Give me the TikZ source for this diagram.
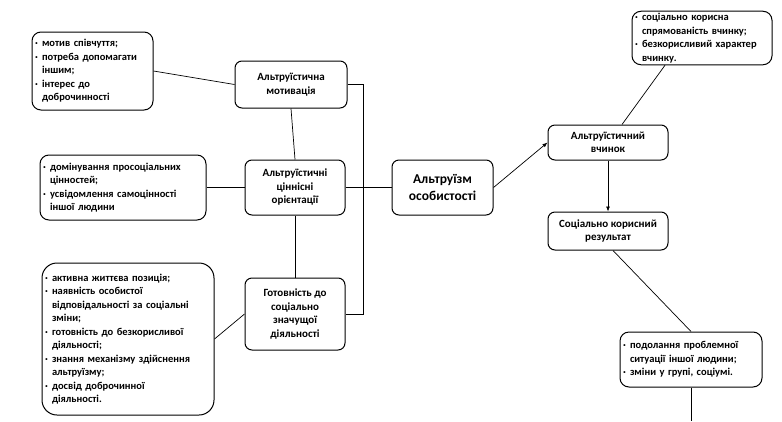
\documentclass[tikz,border=0pt]{standalone}
\usepackage{fontspec}
\setmainfont{Carlito}
\usetikzlibrary{arrows.meta}
\newcommand{\itm}{\makebox[7pt][l]{·}}
\newcommand{\cnt}{\hspace*{7pt}}
\begin{document}
\begin{tikzpicture}[x=1pt,y=-1pt,
  box/.style={draw,line width=1pt,rounded corners=7pt,align=center,inner sep=2pt,
    font=\bfseries\fontsize{11}{13.5}\selectfont},
  listbox/.style={box,align=left,inner xsep=3pt,rounded corners=9pt,
    font=\bfseries\fontsize{10.5}{13.5}\selectfont},
  link/.style={line width=0.7pt},
  arr/.style={link,-{Latex[length=5pt,width=4pt]}}]
\useasboundingbox (0,0) rectangle (782,421);

\node[listbox,text width=115pt,minimum height=78pt] (motives) at (92.5,71)
  {\itm мотив співчуття;\\ \itm потреба допомагати\\ \cnt іншим;\\ \itm інтерес до\\ \cnt доброчинності};
\node[box,minimum width=112pt,minimum height=47pt] (motiv) at (291,84.5) {Альтруїстична\\ мотивація};
\draw[link] (motives.east) -- (motiv.west);

\node[listbox,text width=160pt,minimum height=65pt] (values) at (123,187.5)
  {\itm домінування просоціальних\\ \cnt цінностей;\\ \itm усвідомлення самоцінності\\ \cnt іншої людини};
\node[box,minimum width=100pt,minimum height=55pt] (orient) at (295,187.5) {Альтруїстичні\\ ціннісні\\ орієнтації};
\draw[link] (values.east) -- (orient.west);
\draw[link] (motiv.south) -- (orient.north);

\node[listbox,text width=166pt,minimum height=152pt,rounded corners=15pt] (skills) at (128,339)
  {\itm активна життєва позиція;\\ \itm наявність особистої\\ \cnt відповідальності за соціальні\\ \cnt зміни;\\
   \itm готовність до безкорисливої\\ \cnt діяльності;\\ \itm знання механізму здійснення\\ \cnt альтруїзму;\\
   \itm досвід доброчинної\\ \cnt діяльності.};
\node[box,minimum width=100pt,minimum height=72pt] (ready) at (295,314) {Готовність до\\ соціально\\ значущої\\ діяльності};
\draw[link] (skills.east) -- (ready.west);
\draw[link] (orient.south) -- (ready.north);
\draw[link] (motiv.east) -- ++(16,0) |- (ready.east);

\node[box,minimum width=101pt,minimum height=55pt,font=\bfseries\fontsize{13.5}{17}\selectfont] (altr) at (442.5,187.5) {Альтруїзм\\ особистості};
\draw[link] (orient.east) -- (altr.west);

\node[box,minimum width=120pt,minimum height=35pt] (deed) at (608,142.5) {Альтруїстичний\\ вчинок};
\node[box,minimum width=120pt,minimum height=38pt] (result) at (608,231) {Соціально корисний\\ результат};
\draw[arr] (altr.east) -- (deed.west);
\draw[arr] (deed.south) -- (result.north);

\node[listbox,text width=134pt,minimum height=50pt] (deedsigns) at (702,38)
  {\itm соціально корисна\\ \cnt спрямованість вчинку;\\ \itm безкорисливий характер\\ \cnt вчинку.};
\draw[link] ([xshift=-37pt]deedsigns.south) -- ([xshift=14pt]deed.north);

\node[listbox,text width=136pt,minimum height=55pt] (effects) at (691,359.5)
  {\itm подолання проблемної\\ \cnt ситуації іншої людини;\\ \itm зміни у групі, соціумі.};
\draw[link] ([xshift=5pt]result.south) -- (effects.north);
\coordinate (down) at (691,421);
\draw[link] (effects.south) -- (down);

\end{tikzpicture}
\end{document}
